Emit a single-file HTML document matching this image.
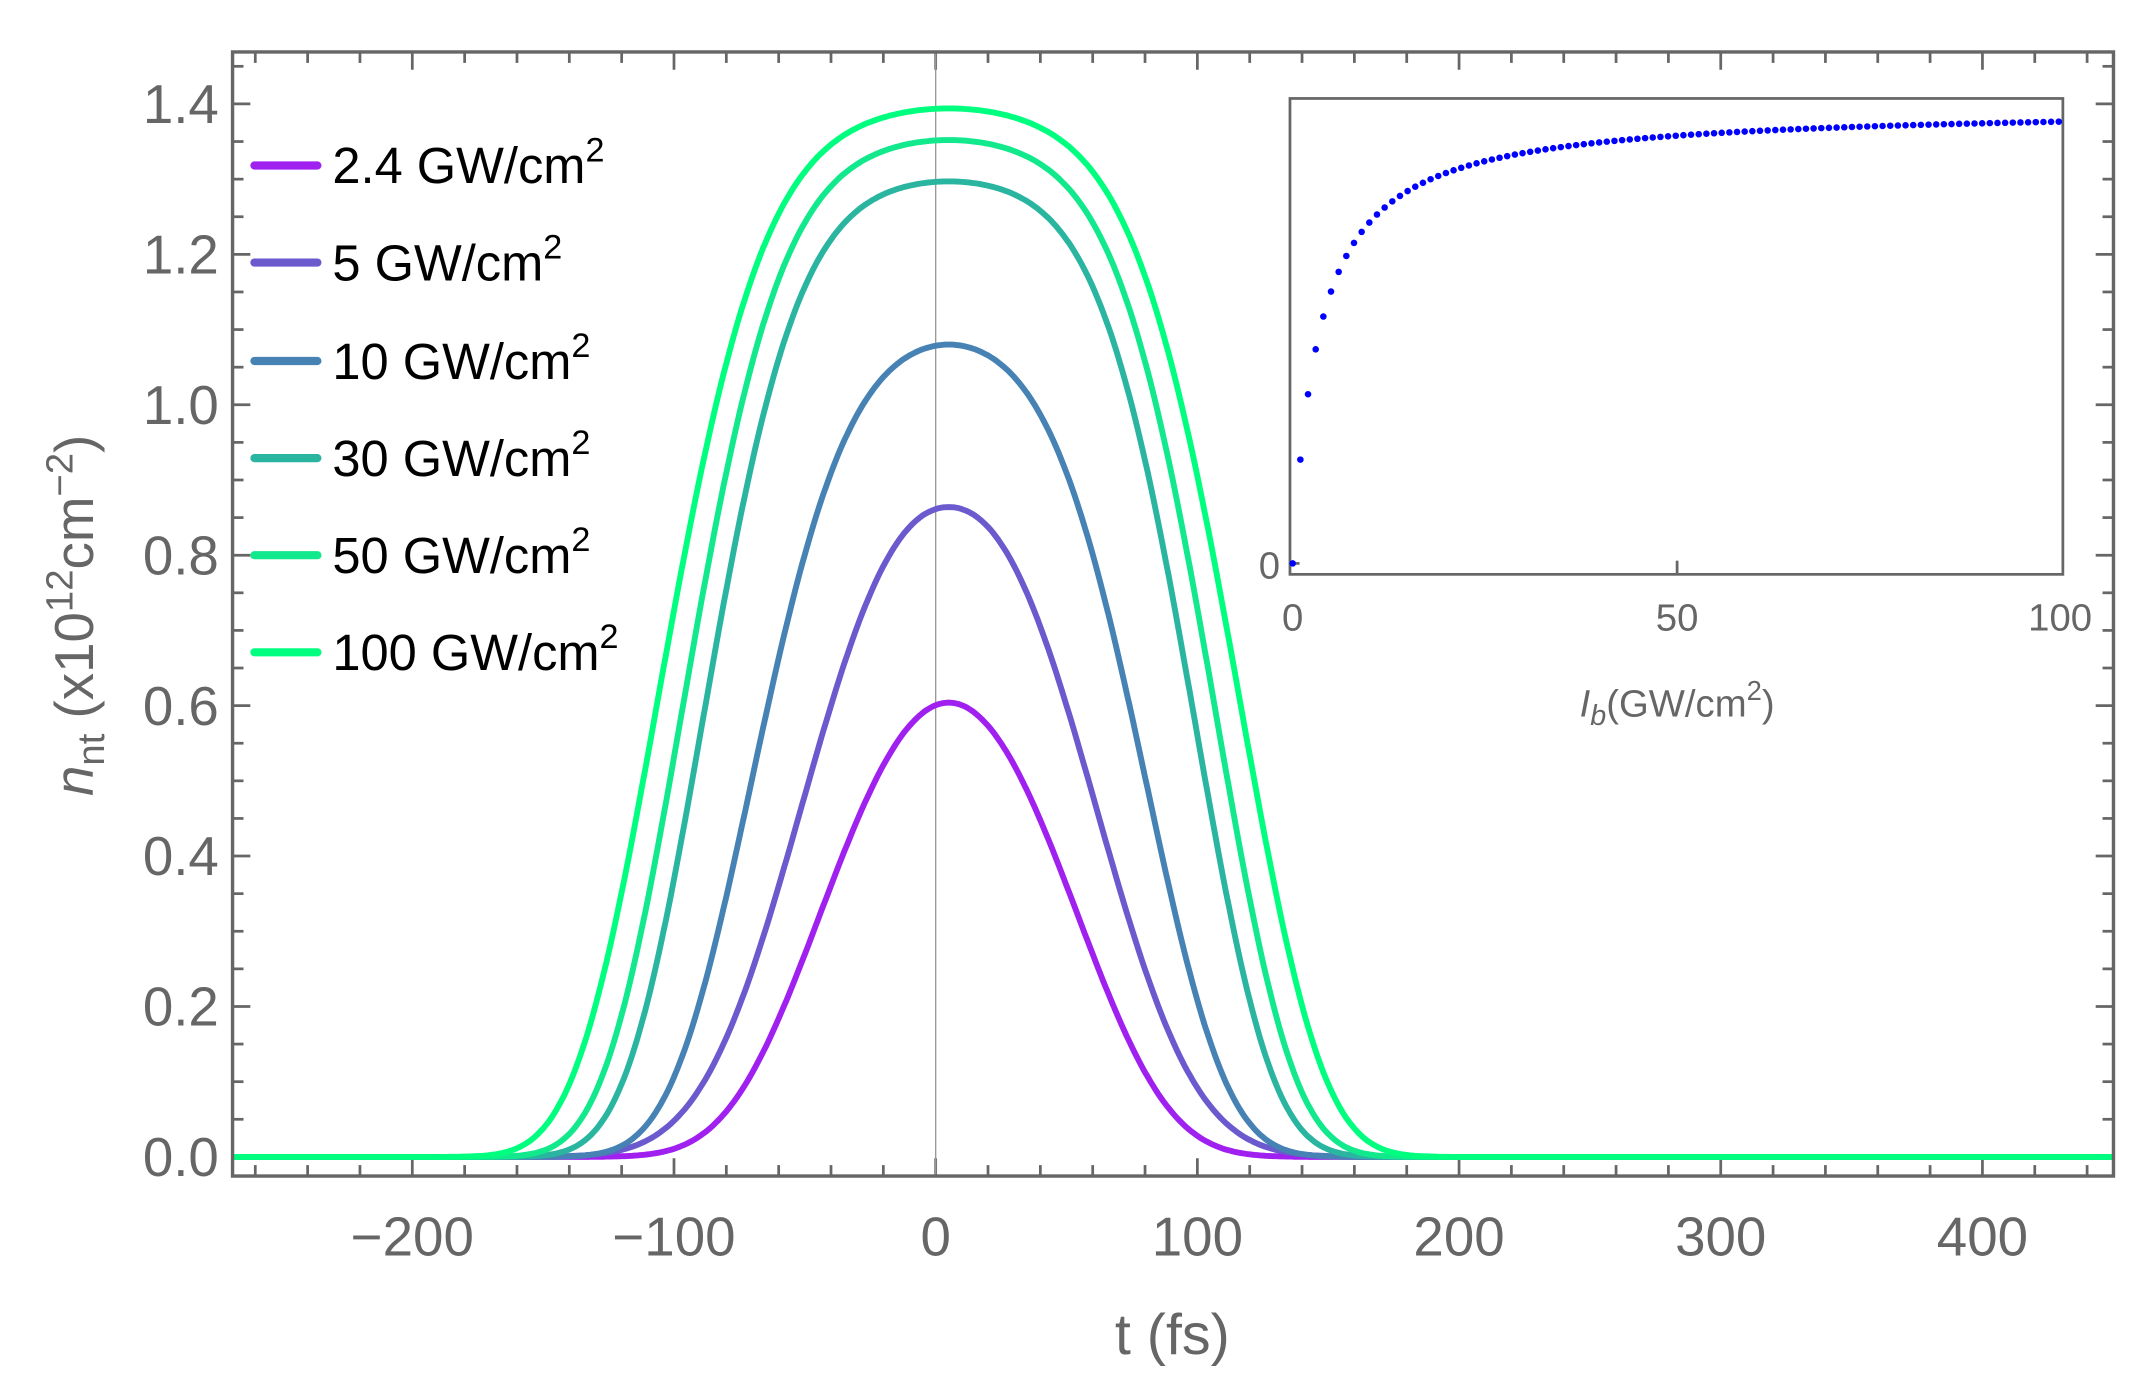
<!DOCTYPE html>
<html><head><meta charset="utf-8"><style>
html,body{margin:0;padding:0;background:#fff;}
svg{display:block;}
text{font-family:"Liberation Sans",sans-serif;}
</style></head><body>
<svg id="s" width="2134" height="1388" viewBox="0 0 1560 1015" preserveAspectRatio="none" xmlns="http://www.w3.org/2000/svg">
<g id="ticks" stroke="#666" stroke-width="2"></g>
<line x1="684" y1="38" x2="684" y2="860" stroke="#999" stroke-width="1"/>
<g id="curves" fill="none" stroke-width="4.3" stroke-linejoin="round"></g>
<rect x="170" y="38" width="1375" height="822" fill="none" stroke="#666" stroke-width="2.5"/>
<g font-size="40" fill="#666" text-anchor="end" id="ylab"></g>
<g font-size="40" fill="#666" text-anchor="middle" id="xlab"></g>
<text x="857" y="990" font-size="42" fill="#666" text-anchor="middle">t (fs)</text>
<text transform="translate(68,450) rotate(-90)" font-size="40" fill="#666" text-anchor="middle"><tspan font-style="italic">n</tspan><tspan font-size="28" dy="8">nt</tspan><tspan dy="-8"> (x10</tspan><tspan font-size="28" dy="-15">12</tspan><tspan dy="15">cm</tspan><tspan font-size="28" dy="-15">−2</tspan><tspan dy="15">)</tspan></text>
<g id="legend" font-size="37" fill="#000"></g>
<rect x="943" y="72" width="565" height="348" fill="#fff" stroke="#666" stroke-width="2"/>
<line x1="1226" y1="420" x2="1226" y2="410" stroke="#666" stroke-width="2"/>
<line x1="943" y1="412" x2="950" y2="412" stroke="#666" stroke-width="2"/>
<g id="dots" fill="#0000ff"></g>
<g font-size="28" fill="#666" text-anchor="middle">
<text x="945" y="461">0</text><text x="1226" y="461">50</text><text x="1506" y="461">100</text>
<text x="928" y="423">0</text>
<text x="1226" y="524"><tspan font-style="italic">I</tspan><tspan font-style="italic" font-size="21" dy="6">b</tspan><tspan dy="-6">(GW/cm</tspan><tspan font-size="20" dy="-12">2</tspan><tspan dy="12">)</tspan></text>
</g>
</svg>
<script>
var NS="http://www.w3.org/2000/svg";
function el(p,t,a,txt){var e=document.createElementNS(NS,t);for(var k in a)e.setAttribute(k,a[k]);if(txt!=null)e.textContent=txt;p.appendChild(e);return e;}
var X=function(t){return 684+1.913*t;}, Y=function(v){return 846-550*v;};
var tk=document.getElementById('ticks');
for(var t=-260;t<=440;t+=20){var x=X(t),L=(t%100==0)?13:8;el(tk,'line',{x1:x,y1:860,x2:x,y2:860-L});el(tk,'line',{x1:x,y1:38,x2:x,y2:38+L});}
for(var i=0;i<=29;i++){var v=i*0.05,y=Y(v),L=(i%4==0)?13:8;if(y<38)continue;el(tk,'line',{x1:170,y1:y,x2:170+L,y2:y});el(tk,'line',{x1:1545,y1:y,x2:1545-L,y2:y});}
var yl=document.getElementById('ylab');
for(var i=0;i<=7;i++){el(yl,'text',{x:160,y:Y(i*0.2)+14},(i*0.2).toFixed(1));}
var xl=document.getElementById('xlab');
[-200,-100,0,100,200,300,400].forEach(function(t){el(xl,'text',{x:X(t),y:918},(t<0?'−':'')+Math.abs(t));});
// label,color,peak,tau1(quadratic, 0=none),tau2 (0=none),q
var cs=[["2.4","#a020f0",0.604,66,95,4],["5","#6a5acd",0.864,92,90,3],["10","#4682b4",1.08,133,92,4],["30","#2ab5a0",1.297,230,103.9,4.5],["50","#12e88c",1.352,250,111.4,4.7],["100","#00ff7f",1.394,277,120.9,4.8]];
var cg=document.getElementById('curves');
cs.forEach(function(c){
 var d='';
 for(var t=-269;t<=450;t+=1){var dd=Math.abs(t-5);var f=(c[3]?Math.pow(dd/c[3],2):0)+(c[4]?Math.pow(dd/c[4],c[5]):0);var v=c[2]*Math.exp(-f);d+=(d?'L':'M')+X(t).toFixed(1)+','+Y(v).toFixed(1);}
 el(cg,'path',{d:d,stroke:c[1]});
});
var lg=document.getElementById('legend');var ly=[121,192,264,335,406,477];
cs.forEach(function(c,i){el(lg,'line',{x1:186,y1:ly[i],x2:232,y2:ly[i],stroke:c[1],'stroke-width':6,'stroke-linecap':'round'});var t=el(lg,'text',{x:243,y:ly[i]+13},c[0]+' GW/cm');el(t,'tspan',{'font-size':25,dy:-16},'2');});
var dg=document.getElementById('dots');
for(var I=0;I<=100;I++){var h=334*I/(I+3.4);el(dg,'circle',{cx:945+5.6*I,cy:412-h,r:2.4});}
</script>
</body></html>
